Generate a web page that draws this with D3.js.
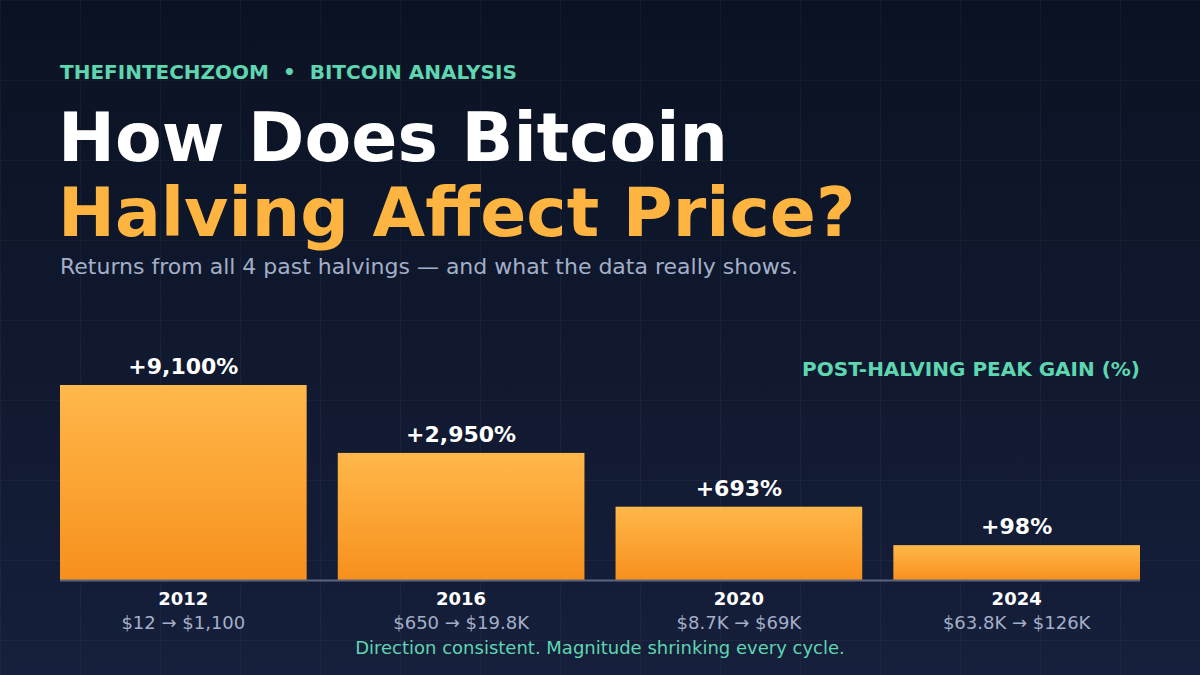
<!DOCTYPE html>
<html>
<head>
<meta charset="utf-8">
<script src="https://cdn.jsdelivr.net/npm/d3@7"></script>
<style>
  html, body { margin: 0; padding: 0; background: #0b1222; }
  svg { display: block; font-family: "DejaVu Sans", sans-serif; }
</style>
</head>
<body>
<svg id="chart" width="1200" height="675"></svg>
<script>
const years = ["2012", "2016", "2020", "2024"];
const gains = [9100, 2950, 693, 98];
const gainLabels = ["+9,100%", "+2,950%", "+693%", "+98%"];
const priceLabels = ["$12 → $1,100", "$650 → $19.8K", "$8.7K → $69K", "$63.8K → $126K"];

const W = 1200, H = 675;
const svg = d3.select("#chart");
const defs = svg.append("defs");

const bg = defs.append("linearGradient").attr("id", "bg").attr("x1", 0).attr("y1", 0).attr("x2", 0).attr("y2", 1);
bg.append("stop").attr("offset", "0%").attr("stop-color", "#0a1222");
bg.append("stop").attr("offset", "100%").attr("stop-color", "#161f3b");

const barGrad = defs.append("linearGradient").attr("id", "barGrad").attr("x1", 0).attr("y1", 0).attr("x2", 0).attr("y2", 1);
barGrad.append("stop").attr("offset", "0%").attr("stop-color", "#ffb84a");
barGrad.append("stop").attr("offset", "100%").attr("stop-color", "#f7901d");

svg.append("rect").attr("width", W).attr("height", H).attr("fill", "url(#bg)");

// grid
const grid = svg.append("g").attr("stroke", "#ffffff").attr("stroke-opacity", 0.035).attr("stroke-width", 1);
d3.range(0, W + 1, 80).forEach(x => grid.append("line").attr("x1", x + 0.5).attr("x2", x + 0.5).attr("y1", 0).attr("y2", H));
d3.range(0, H + 1, 80).forEach(y => grid.append("line").attr("y1", y + 0.5).attr("y2", y + 0.5).attr("x1", 0).attr("x2", W));

// header texts
svg.append("text").attr("x", 60).attr("y", 79)
  .attr("fill", "#5ed6b0").attr("font-weight", "bold").attr("font-size", 20)
  .style("white-space", "pre")
  .text("THEFINTECHZOOM  •  BITCOIN ANALYSIS");

svg.append("text").attr("x", 58).attr("y", 161)
  .attr("fill", "#ffffff").attr("font-weight", "bold").attr("font-size", 68)
  .text("How Does Bitcoin");
svg.append("text").attr("x", 58).attr("y", 236)
  .attr("fill", "#fdb441").attr("font-weight", "bold").attr("font-size", 68)
  .text("Halving Affect Price?");
svg.append("text").attr("x", 60).attr("y", 274)
  .attr("fill", "#a3afc8").attr("font-size", 22)
  .text("Returns from all 4 past halvings — and what the data really shows.");

svg.append("text").attr("x", 1140).attr("y", 376).attr("text-anchor", "end")
  .attr("fill", "#5ed6b0").attr("font-weight", "bold").attr("font-size", 20)
  .text("POST-HALVING PEAK GAIN (%)");

// chart
const baseY = 580;
const x = d3.scaleBand().domain(years).range([60, 1140]).paddingInner(0.112).paddingOuter(0);
const h = d3.scalePow().exponent(0.38).domain([0, d3.max(gains)]).range([0, 195]);

const bars = svg.append("g").selectAll("g").data(years).join("g");
bars.append("rect")
  .attr("x", d => x(d))
  .attr("width", x.bandwidth())
  .attr("y", (d, i) => baseY - h(gains[i]))
  .attr("height", (d, i) => h(gains[i]))
  .attr("fill", "url(#barGrad)");
bars.append("text")
  .attr("x", d => x(d) + x.bandwidth() / 2)
  .attr("y", (d, i) => baseY - h(gains[i]) - 11)
  .attr("text-anchor", "middle").attr("fill", "#ffffff").attr("font-weight", "bold").attr("font-size", 22)
  .text((d, i) => gainLabels[i]);
bars.append("text")
  .attr("x", d => x(d) + x.bandwidth() / 2).attr("y", 605)
  .attr("text-anchor", "middle").attr("fill", "#ffffff").attr("font-weight", "bold").attr("font-size", 18)
  .text(d => d);
bars.append("text")
  .attr("x", d => x(d) + x.bandwidth() / 2).attr("y", 629)
  .attr("text-anchor", "middle").attr("fill", "#a3afc8").attr("font-size", 18)
  .text((d, i) => priceLabels[i]);

svg.append("line").attr("x1", 60).attr("x2", 1140).attr("y1", baseY + 0.5).attr("y2", baseY + 0.5)
  .attr("stroke", "#5b6580").attr("stroke-width", 2);

svg.append("text").attr("x", 600).attr("y", 654).attr("text-anchor", "middle")
  .attr("fill", "#5ed6b0").attr("font-size", 18)
  .text("Direction consistent. Magnitude shrinking every cycle.");
</script>
</body>
</html>
